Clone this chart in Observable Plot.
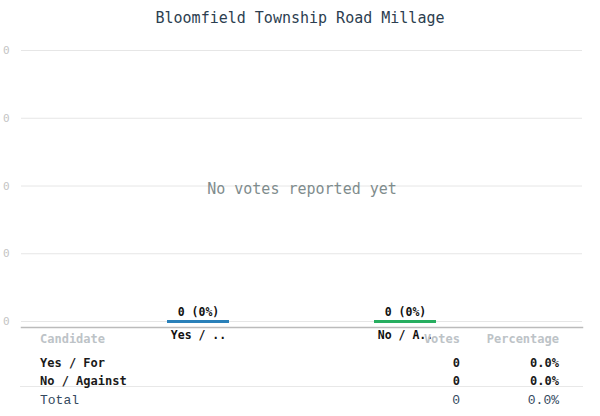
<!DOCTYPE html>
<html>
<head>
<meta charset="utf-8">
<script src="https://cdn.jsdelivr.net/npm/d3@7"></script>
<script src="https://cdn.jsdelivr.net/npm/@observablehq/plot@0.6"></script>
<style>
  html, body { margin: 0; padding: 0; background: #fff; }
  #wrap { position: relative; width: 600px; height: 416px; overflow: hidden; font-family: "DejaVu Sans Mono", monospace; }
  #title { height: 36px; line-height: 36px; text-align: center; font-size: 15px; color: #2c3e50; }
  #chart svg { display: block; }
  #table { position: absolute; left: 20px; top: 330px; width: 563px; }
  .row { display: flex; padding: 0 24px 0 20px; box-sizing: border-box; }
  .row .c1 { flex: 1; }
  .row .c2 { width: 100px; text-align: right; }
  .row .c3 { width: 99px; text-align: right; }
  .head { height: 18px; line-height: 18px; font-size: 12px; font-weight: bold; color: #bdc3c7; }
  .cand { font-size: 12px; font-weight: bold; color: #1a1a1a; height: 18px; line-height: 18px; }
  .total { border-top: 1px solid #e8e8e8; height: 27px; line-height: 27px; font-family: "Liberation Mono", monospace; font-size: 13px; color: #34495e; }
</style>
</head>
<body>
<div id="wrap">
  <div id="title"></div>
  <div id="chart"></div>
  <div id="table"></div>
</div>
<script>
const title = "Bloomfield Township Road Millage";
const emptyMessage = "No votes reported yet";
const candidates = ["Yes / For", "No / Against"];
const votes = [0, 0];
const colors = ["#2980b9", "#27ae60"];
const yTicks = [0, 1, 2, 3, 4];
const yTickLabels = ["0", "0", "0", "0", "0"];
const headers = ["Candidate", "Votes", "Percentage"];
const totalLabel = "Total";

const total = d3.sum(votes);
const pct = v => total ? v / total * 100 : 0;
const data = candidates.map((name, i) => ({
  name, votes: votes[i], color: colors[i],
  label: `${votes[i]} (${Math.round(pct(votes[i]))}%)`
}));
const truncate = s => s.length > 8 ? s.slice(0, 6) + ".." : s;

document.getElementById("title").textContent = title;

const chart = Plot.plot({
  width: 600,
  height: 311,
  marginTop: 14,
  marginLeft: 21,
  marginRight: 18,
  marginBottom: 20,
  style: { fontFamily: "DejaVu Sans Mono", background: "transparent", overflow: "visible" },
  x: { domain: candidates, padding: 0.7, axis: null },
  y: { domain: [0, 4], insetBottom: 6, axis: null },
  marks: [
    Plot.gridY(yTicks, { stroke: "#e6e6e6", strokeOpacity: 1 }),
    Plot.axisY({ ticks: yTicks, tickFormat: d => yTickLabels[yTicks.indexOf(d)], tickSize: 0, tickPadding: 12, fill: "#c4c4c4", fontSize: 11, label: null }),
    Plot.frame({ anchor: "bottom", stroke: "#bbbbbb", strokeWidth: 1.5 }),
    Plot.axisX({ tickSize: 0, tickPadding: 3, tickFormat: truncate, fontWeight: "bold", fontSize: 11.5, fill: "#111", label: null }),
    Plot.tickY(data, { x: "name", y: "votes", stroke: "color", strokeWidth: 3 }),
    Plot.text(data, { x: "name", y: "votes", text: "label", dy: -9, fontWeight: "bold", fontSize: 11.5, fill: "#111" }),
    Plot.text([emptyMessage], { frameAnchor: "middle", fontSize: 15, fill: "#7f8c8d" })
  ]
});
document.getElementById("chart").appendChild(chart);

const table = document.getElementById("table");
function addRow(cls, cells, style) {
  const r = document.createElement("div");
  r.className = "row " + cls;
  if (style) r.setAttribute("style", style);
  cells.forEach((t, i) => {
    const c = document.createElement("div");
    c.className = "c" + (i + 1);
    c.textContent = t;
    r.appendChild(c);
  });
  table.appendChild(r);
}
addRow("head", headers);
data.forEach((d, i) => {
  const style = i === 0 ? "margin-top:6px" : (i === data.length - 1 ? "height:14px" : "");
  addRow("cand", [d.name, String(d.votes), pct(d.votes).toFixed(1) + "%"], style);
});
addRow("total", [totalLabel, String(total), pct(total).toFixed(1) + "%"]);
</script>
</body>
</html>
